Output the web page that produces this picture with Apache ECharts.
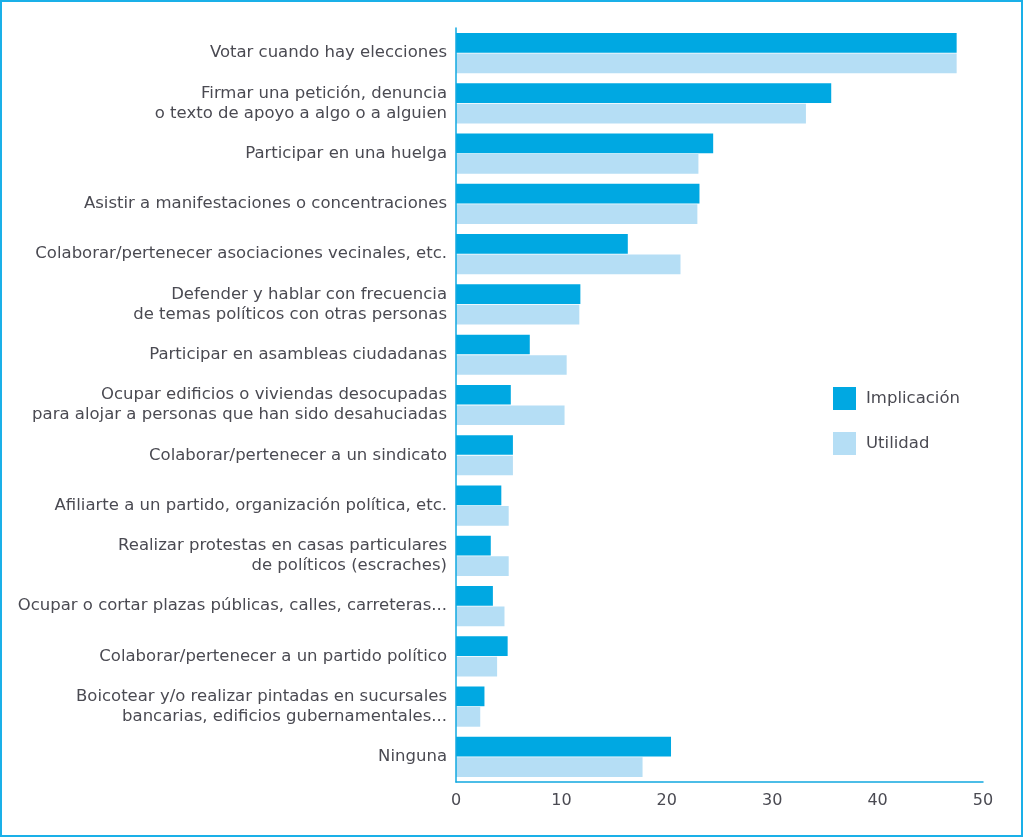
<!DOCTYPE html>
<html>
<head>
<meta charset="utf-8">
<script src="https://cdn.jsdelivr.net/npm/echarts@6/dist/echarts.min.js"></script>
<style>
html,body{margin:0;padding:0;background:#fff;}
#main{width:1023px;height:837px;box-sizing:border-box;border:2px solid #1ab0e8;}
</style>
</head>
<body>
<div id="main"></div>
<script>
var categories = [
	'Votar cuando hay elecciones',
	'Firmar una petición, denuncia\no texto de apoyo a algo o a alguien',
	'Participar en una huelga',
	'Asistir a manifestaciones o concentraciones',
	'Colaborar/pertenecer asociaciones vecinales, etc.',
	'Defender y hablar con frecuencia\nde temas políticos con otras personas',
	'Participar en asambleas ciudadanas',
	'Ocupar edificios o viviendas desocupadas\npara alojar a personas que han sido desahuciadas',
	'Colaborar/pertenecer a un sindicato',
	'Afiliarte a un partido, organización política, etc.',
	'Realizar protestas en casas particulares\nde políticos (escraches)',
	'Ocupar o cortar plazas públicas, calles, carreteras...',
	'Colaborar/pertenecer a un partido político',
	'Boicotear y/o realizar pintadas en sucursales\nbancarias, edificios gubernamentales...',
	'Ninguna'
];
var implicacion = [47.5, 35.6, 24.4, 23.1, 16.3, 11.8, 7.0, 5.2, 5.4, 4.3, 3.3, 3.5, 4.9, 2.7, 20.4];
var utilidad = [47.5, 33.2, 23.0, 22.9, 21.3, 11.7, 10.5, 10.3, 5.4, 5.0, 5.0, 4.6, 3.9, 2.3, 17.7];
var xTicks = [0, 10, 20, 30, 40, 50];

var chart = echarts.init(document.getElementById('main'));
var txt = '#4a4a52';
var font = 'DejaVu Sans';
var option = {
	animation: false,
	textStyle: {fontFamily: font},
	grid: {left: 454, right: 38, top: 26, bottom: 53},
	legend: {
		orient: 'vertical',
		left: 826,
		top: 380,
		itemWidth: 23,
		itemHeight: 23,
		itemGap: 22,
		icon: 'rect',
		textStyle: {fontSize: 16.5, color: txt, fontFamily: font, padding: [6, 0, 0, 5]},
		data: ['Implicación', 'Utilidad']
	},
	xAxis: {
		type: 'value',
		min: xTicks[0],
		max: xTicks[xTicks.length - 1],
		interval: 10,
		z: 3,
		axisLine: {show: true, lineStyle: {color: '#12a8e0', width: 1.5}},
		axisTick: {show: false},
		splitLine: {show: false},
		axisLabel: {color: txt, fontSize: 16, margin: 11, fontFamily: font}
	},
	yAxis: {
		type: 'category',
		inverse: true,
		data: categories,
		z: 3,
		axisLine: {show: true, lineStyle: {color: '#12a8e0', width: 1.5}},
		axisTick: {show: false},
		axisLabel: {color: txt, fontSize: 16.5, margin: 9, lineHeight: 20, fontFamily: font}
	},
	series: [
		{
			name: 'Implicación',
			type: 'bar',
			data: implicacion,
			barCategoryGap: '20%',
			barGap: '4%',
			itemStyle: {color: '#00a8e2'}
		},
		{
			name: 'Utilidad',
			type: 'bar',
			data: utilidad,
			barCategoryGap: '20%',
			barGap: '4%',
			itemStyle: {color: '#b5def5'}
		}
	]
};
chart.setOption(option);
</script>
</body>
</html>
